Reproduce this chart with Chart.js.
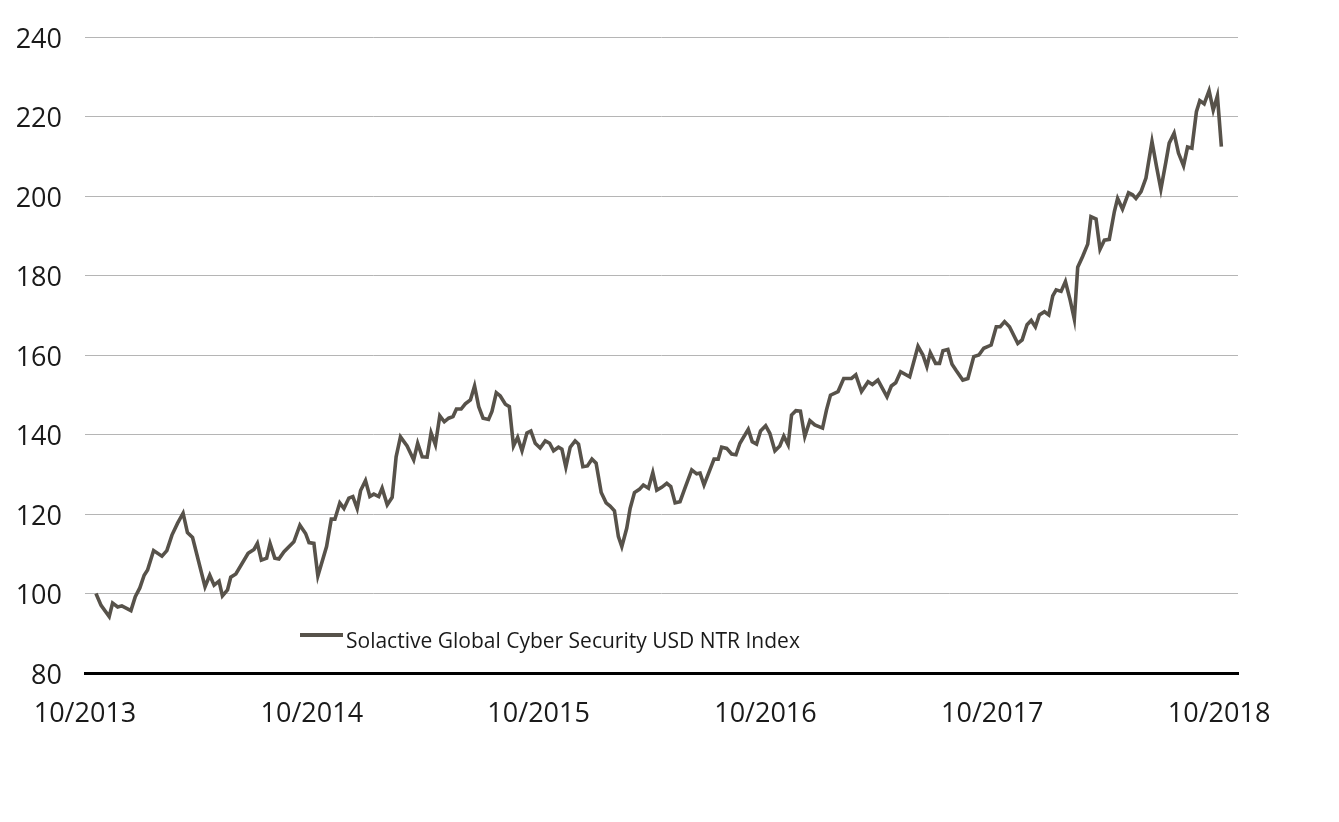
<!DOCTYPE html>
<html>
<head>
<meta charset="utf-8">
<script src="https://cdn.jsdelivr.net/npm/chart.js@4/dist/chart.umd.min.js"></script>
<style>
  html, body { margin: 0; padding: 0; background: #ffffff; }
  #wrap { width: 1339px; height: 822px; position: relative; }
</style>
</head>
<body>
<div id="wrap"><canvas id="c" width="1339" height="822"></canvas></div>
<script>
// Time in months since 10/2013
const months = [
  0.58,0.85,1.28,1.46,1.73,1.95,2.43,2.66,2.90,3.13,3.31,3.63,4.07,4.33,4.60,4.90,5.19,5.42,5.69,6.35,
  6.60,6.83,7.09,7.27,7.54,7.71,7.98,8.63,8.94,9.12,9.33,9.61,9.79,10.04,10.26,10.53,11.05,11.37,11.67,11.85,
  12.11,12.32,12.78,13.03,13.22,13.48,13.70,13.96,14.17,14.40,14.58,14.84,15.07,15.28,15.54,15.72,15.99,16.25,16.46,16.69,
  17.04,17.39,17.60,17.84,18.10,18.31,18.54,18.77,19.01,19.24,19.47,19.65,19.90,20.12,20.39,20.61,20.83,21.06,21.35,21.53,
  21.76,21.97,22.24,22.45,22.67,22.89,23.12,23.38,23.59,23.82,24.08,24.35,24.58,24.79,25.05,25.23,25.44,25.67,25.93,26.11,
  26.34,26.58,26.82,27.04,27.31,27.57,27.78,28.01,28.22,28.40,28.66,28.84,29.07,29.33,29.54,29.81,30.04,30.25,30.51,30.78,
  30.99,31.22,31.48,31.74,32.10,32.36,32.54,32.75,33.06,33.28,33.50,33.68,33.95,34.21,34.44,34.65,35.09,35.30,35.53,35.74,
  36.01,36.23,36.50,36.76,36.97,37.20,37.38,37.61,37.85,38.08,38.35,38.61,39.02,39.23,39.44,39.84,40.14,40.55,40.78,41.08,
  41.43,41.66,41.95,42.43,42.66,42.89,43.15,43.63,44.07,44.33,44.54,44.72,45.00,45.21,45.39,45.65,45.87,46.09,46.44,46.71,
  47.02,47.29,47.55,47.94,48.21,48.42,48.65,48.91,49.35,49.58,49.84,50.06,50.28,50.49,50.76,50.99,51.20,51.38,51.64,51.87,
  52.12,52.34,52.52,52.78,53.05,53.22,53.49,53.70,53.93,54.19,54.46,54.63,54.89,55.21,55.42,55.60,55.87,56.13,56.45,56.69,
  56.92,57.19,57.36,57.62,57.85,58.12,58.33,58.56,58.80,58.98,59.21,59.47,59.69,59.91,60.12
];
// Index level
const indexValues = [
  100,97,94.2,97.6,96.6,96.9,95.7,99.2,101.4,104.6,105.9,110.8,109.4,110.8,114.7,117.7,120.2,115.3,114.1,101.7,
  104.6,102.1,103.1,99.4,100.9,104.1,104.9,110.1,111.1,112.6,108.4,108.9,112.6,108.9,108.7,110.5,113,117.2,115.1,112.8,
  112.6,104.4,111.8,118.7,118.7,122.8,121.4,124,124.4,121.4,125.9,128.4,124.4,125,124.4,126.5,122.3,124.2,134.4,139.4,
  137.1,133.6,137.8,134.4,134.3,140.4,137.4,144.7,143.2,144.1,144.5,146.4,146.4,147.7,148.7,152.2,147,144.1,143.8,145.8,
  150.5,149.7,147.6,147,137.1,139.3,135.9,140.4,140.9,137.8,136.6,138.4,137.8,135.9,136.8,136.3,131.8,136.8,138.4,137.6,
  131.9,132.1,133.8,132.8,125.4,122.8,122,120.8,114.3,111.8,116.4,121.4,125.4,126.2,127.3,126.5,130.4,126,126.7,127.7,
  126.9,122.8,123.1,126.5,131.1,130.1,130.3,127.3,131.1,133.8,133.8,136.8,136.5,135.1,134.9,137.8,141.3,138.2,137.6,140.9,
  142.2,140.3,135.9,137.1,139.6,137.4,144.9,146,145.9,139.5,143.5,142.4,141.6,146.2,149.9,150.8,154.1,154.1,155,150.8,
  153.3,152.6,153.7,149.5,152.2,153,155.8,154.5,162.2,160,157.1,160.6,157.9,157.9,161.1,161.4,157.7,156.1,153.7,154.1,
  159.6,160,161.7,162.5,167.1,167.1,168.4,167.1,162.9,163.8,167.6,168.7,167.1,170.1,170.9,170.1,174.9,176.4,176,178.5,
  173.8,169,182.1,184.8,187.9,194.8,194.2,186.6,188.9,189.1,196.1,199.4,196.7,200.8,200.3,199.4,201.1,204.5,213.7,207.4,
  201.7,208.7,213.3,215.8,210.8,207.6,212.3,212,221.2,224,223.2,226.5,221.6,225.2,212.4
];
const seriesName = 'Solactive Global Cyber Security USD NTR Index';
const tickMonths = [0, 12, 24, 36, 48, 60];
const tickLabels = ['10/2013', '10/2014', '10/2015', '10/2016', '10/2017', '10/2018'];
const yTicks = [80, 100, 120, 140, 160, 180, 200, 220, 240];

const lineColor = '#57524a';
const FONT = "'Open Sans', 'Noto Sans', sans-serif";

const points = months.map((m, i) => ({ x: m, y: indexValues[i] }));

const legendInside = {
  id: 'legendInside',
  afterDraw(chart) {
    const ctx = chart.ctx;
    const ds = chart.data.datasets[0];
    const area = chart.chartArea;
    const x0 = area.left + 215, y0 = 635;
    ctx.save();
    ctx.strokeStyle = ds.borderColor;
    ctx.lineWidth = 4;
    ctx.beginPath();
    ctx.moveTo(x0, y0);
    ctx.lineTo(x0 + 43, y0);
    ctx.stroke();
    ctx.fillStyle = '#1a1a1a';
    ctx.font = "21px " + FONT;
    ctx.textBaseline = 'alphabetic';
    ctx.fillText(ds.label, x0 + 46, 647.5);
    ctx.restore();
  }
};

new Chart(document.getElementById('c'), {
  type: 'line',
  data: {
    datasets: [{
      label: seriesName,
      data: points,
      borderColor: lineColor,
      borderWidth: 3.6,
      pointRadius: 0,
      tension: 0,
      fill: false
    }]
  },
  options: {
    responsive: false,
    animation: false,
    layout: { padding: { top: 37, right: 101, left: 0, bottom: 0 } },
    plugins: { legend: { display: false }, tooltip: { enabled: false } },
    scales: {
      x: {
        type: 'linear',
        min: 0,
        max: 61,
        afterBuildTicks(scale) { scale.ticks = tickMonths.map(v => ({ value: v })); },
        afterFit(scale) { scale.height = 149; scale.paddingLeft = 0; scale.paddingRight = 0; },
        grid: { display: false, drawTicks: false },
        border: { display: true, color: '#000000', width: 3 },
        ticks: {
          padding: 25,
          color: '#1a1a1a',
          font: { family: FONT, size: 27 },
          maxRotation: 0,
          autoSkip: false,
          callback(v) { const i = tickMonths.indexOf(v); return i >= 0 ? tickLabels[i] : ''; }
        }
      },
      y: {
        min: 80,
        max: 240,
        afterBuildTicks(scale) { scale.ticks = yTicks.map(v => ({ value: v })); },
        afterFit(scale) { scale.width = 85; scale.paddingTop = 0; scale.paddingBottom = 0; },
        grid: {
          drawTicks: false,
          color(ctx) { return ctx.tick && ctx.tick.value === 80 ? 'rgba(0,0,0,0)' : '#b5b5b5'; },
          lineWidth: 1
        },
        border: { display: false },
        ticks: {
          padding: 23,
          labelOffset: 3,
          color: '#1a1a1a',
          font: { family: FONT, size: 27 },
          callback(v) { return String(v); }
        }
      }
    }
  },
  plugins: [legendInside]
});
</script>
</body>
</html>
